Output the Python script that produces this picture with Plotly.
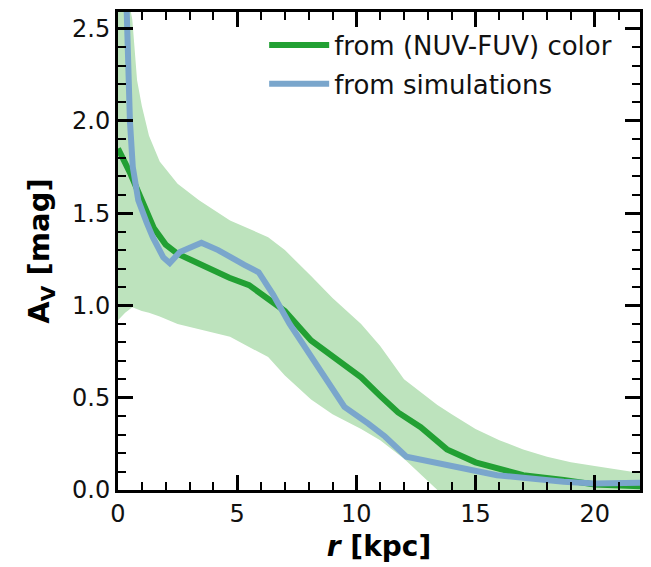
import plotly.graph_objects as go

# Green curve: A_V from (NUV-FUV) colour
r_color = [0, 0.5, 1, 1.5, 2, 2.5, 3, 3.5, 4, 4.67, 5.5, 6.33, 7, 8.1, 9, 10.2, 11,
           11.75, 12.7, 13.8, 15, 15.9, 17, 18.7, 20, 22]
av_color = [1.85, 1.72, 1.57, 1.42, 1.33, 1.28, 1.25, 1.22, 1.19, 1.15, 1.11, 1.03, 0.97,
            0.81, 0.72, 0.61, 0.51, 0.42, 0.34, 0.22, 0.15, 0.12, 0.08, 0.055, 0.03, 0.02]

# Shaded uncertainty band
r_band = [0, 0.3, 0.6, 0.8, 1.0, 1.3, 1.75, 2.5, 3.4, 4.7, 6.3, 7.0, 8.1, 9, 10.2, 11, 12,
          13, 13.4, 14, 15, 16, 17, 18, 19, 20, 21, 22]
av_upper = [2.9, 2.75, 2.55, 2.22, 2.08, 1.92, 1.78, 1.66, 1.57, 1.46, 1.37, 1.3, 1.16,
            1.04, 0.9, 0.78, 0.6, 0.5, 0.46, 0.41, 0.33, 0.27, 0.22, 0.18, 0.15, 0.13,
            0.11, 0.09]
av_lower = [0.92, 0.96, 0.99, 0.98, 0.97, 0.96, 0.94, 0.90, 0.87, 0.83, 0.72, 0.62, 0.49,
            0.41, 0.33, 0.27, 0.17, 0.05, 0.0, 0.0, 0.0, 0.0, 0.0, 0.0, 0.0, 0.0, 0.0, 0.0]

# Blue curve: from simulations
r_sim = [0.33, 0.5, 0.62, 0.85, 1.2, 1.46, 1.9, 2.17, 2.6, 3.0, 3.5, 4.2, 4.7, 5.3, 5.9,
         6.5, 7.2, 8.0, 8.8, 9.5, 10.5, 11.2, 12.1, 13.8, 15.9, 18.7, 20, 22]
av_sim = [2.75, 2.0, 1.75, 1.57, 1.45, 1.37, 1.26, 1.23, 1.29, 1.31, 1.34, 1.30, 1.26,
          1.22, 1.18, 1.06, 0.9, 0.74, 0.58, 0.45, 0.36, 0.29, 0.18, 0.135, 0.08, 0.045,
          0.035, 0.04]

x_ticks = [0, 5, 10, 15, 20]
y_ticks = [0.0, 0.5, 1.0, 1.5, 2.0, 2.5]

GREEN = "#22a033"
BLUE = "#7aa6cc"
BAND = "#bde3bd"
FONT = "DejaVu Sans"

fig = go.Figure()
fig.add_trace(go.Scatter(x=r_band, y=av_upper, mode="lines", line=dict(width=0),
                         showlegend=False, hoverinfo="skip"))
fig.add_trace(go.Scatter(x=r_band, y=av_lower, mode="lines", line=dict(width=0),
                         fill="tonexty", fillcolor=BAND, showlegend=False,
                         hoverinfo="skip"))
fig.add_trace(go.Scatter(x=r_color, y=av_color, mode="lines",
                         line=dict(color=GREEN, width=6),
                         name="from (NUV-FUV) color", legendgroup="a"))
fig.add_trace(go.Scatter(x=r_sim, y=av_sim, mode="lines",
                         line=dict(color=BLUE, width=6),
                         name="from simulations", legendgroup="b"))

axis_common = dict(
    showline=True, linecolor="black", linewidth=3, mirror="allticks",
    ticks="inside", ticklen=15, tickwidth=3, tickcolor="black",
    showgrid=False, zeroline=False,
    tickfont=dict(family=FONT, size=24, color="#111"),
)

fig.update_xaxes(range=[0, 21.9], tickvals=x_ticks, ticktext=[str(v) for v in x_ticks],
                 minor=dict(ticks="inside", ticklen=8, tickwidth=1.5, dtick=1,
                            tickcolor="black", showgrid=False),
                 title=dict(text="<b><i>r</i> [kpc]</b>",
                            font=dict(family=FONT, size=28, color="black"), standoff=10),
                 **axis_common)
fig.update_yaxes(range=[0, 2.59], tickvals=y_ticks,
                 ticktext=[f"{v:.1f}" for v in y_ticks],
                 minor=dict(ticks="inside", ticklen=8, tickwidth=1.5, dtick=0.1,
                            tickcolor="black", showgrid=False),
                 title=dict(text="<b>A<sub>V</sub> [mag]</b>",
                            font=dict(family=FONT, size=29, color="black"), standoff=14),
                 **axis_common)

fig.update_layout(
    width=651, height=567,
    margin=dict(l=118, r=8, t=12, b=77),
    plot_bgcolor="white", paper_bgcolor="white",
    legend=dict(x=0.28, y=0.98, xanchor="left", yanchor="top",
                font=dict(family=FONT, size=26, color="#111"),
                bgcolor="rgba(255,255,255,0)", traceorder="grouped",
                itemwidth=60, tracegroupgap=2),
)

fig.write_html("out.html")
